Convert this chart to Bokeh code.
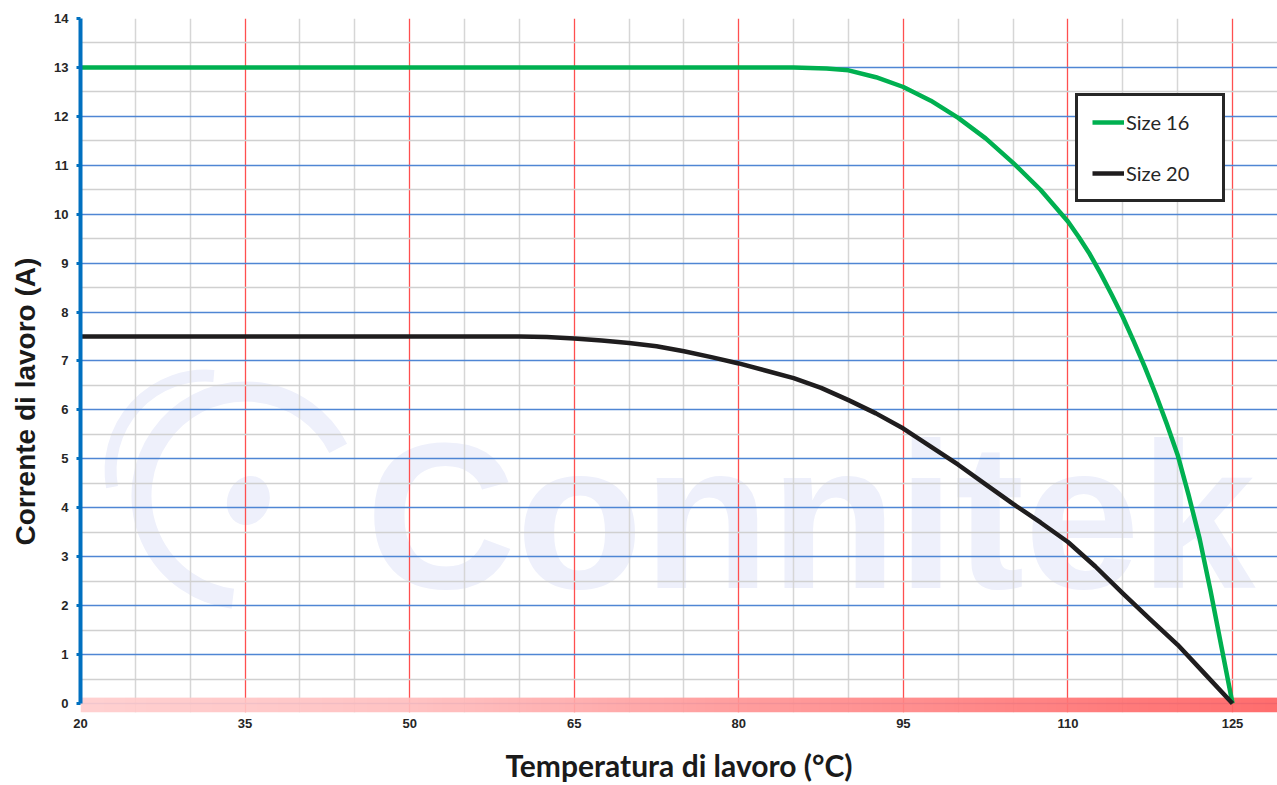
import numpy as np
from bokeh.plotting import figure
from bokeh.models import Range1d, FixedTicker, Legend, LegendItem, Title
from bokeh.embed import file_html
from bokeh.resources import INLINE
from bokeh.core.properties import value

# ---- data ----
temp_size16 = [20, 30, 40, 50, 60, 70, 80, 85, 88, 90, 92.5, 95, 97.5, 100, 102.5,
               105, 107.5, 110, 111, 112, 113, 114, 115, 116, 117, 118, 119, 120,
               121, 122, 123, 124, 125]
curr_size16 = [13, 13, 13, 13, 13, 13, 13, 13.0, 12.98, 12.94, 12.8, 12.6, 12.32, 11.97, 11.55,
               11.05, 10.5, 9.85, 9.53, 9.18, 8.78, 8.35, 7.9, 7.4, 6.88, 6.32, 5.72, 5.08,
               4.26, 3.37, 2.3, 1.15, 0]

temp_size20 = [20, 30, 40, 50, 60, 62.5, 65, 67.5, 70, 72.5, 75, 77.5, 80, 82.5, 85, 87.5,
               90, 92.5, 95, 97.5, 100, 102.5, 105, 107.5, 110, 112.5, 115, 117.5, 120, 122.5, 125]
curr_size20 = [7.5, 7.5, 7.5, 7.5, 7.5, 7.49, 7.46, 7.42, 7.37, 7.3, 7.2, 7.08, 6.95, 6.8, 6.65, 6.45,
               6.2, 5.93, 5.62, 5.25, 4.88, 4.48, 4.08, 3.7, 3.3, 2.8, 2.25, 1.72, 1.2, 0.6, 0]

x_ticks = [20, 35, 50, 65, 80, 95, 110, 125]
x_minor = [25, 30, 40, 45, 55, 60, 70, 75, 85, 90, 100, 105, 115, 120]
y_ticks = list(range(0, 15))
y_minor = [v + 0.5 for v in range(0, 14)]

series_names = ["Size 16", "Size 20"]
series_colors = ["#00B050", "#1F1D1E"]

x_title = "Temperatura di lavoro (°C)"
y_title = "Corrente di lavoro (A)"
watermark = "Connitek"

X0, X1 = 20, 129.1
Y0, Y1 = -0.184, 14

p = figure(width=1277, height=785, output_backend="svg", toolbar_location=None,
           x_range=Range1d(X0, X1), y_range=Range1d(Y0, Y1),
           min_border_left=80, min_border_right=0, min_border_top=18, min_border_bottom=73)
p.outline_line_color = None
p.background_fill_color = "white"
p.border_fill_color = "white"

# ---- watermark (under grid) ----
wm_col = "#EEF0FB"
p.text(x=[46.0], y=[3.84], text=[watermark], text_font=value("Liberation Sans"),
       text_font_style="bold", text_font_size="208px", text_color=wm_col,
       text_baseline="middle", level="image")
p.arc(x=[35.04], y=[4.25], radius=104, radius_units="screen",
      start_angle=np.deg2rad(27), end_angle=np.deg2rad(263), direction="anticlock",
      line_color=wm_col, line_width=20, level="image")
p.arc(x=[31.4], y=[4.76], radius=95, radius_units="screen",
      start_angle=np.deg2rad(85), end_angle=np.deg2rad(190), direction="anticlock",
      line_color=wm_col, line_width=12, level="image")
p.ellipse(x=[35.3], y=[4.15], width=42, height=50, width_units="screen", height_units="screen",
          angle=np.deg2rad(-20), fill_color=wm_col, line_color=None, level="image")

# ---- axes & grids ----
p.xaxis.ticker = FixedTicker(ticks=x_ticks, minor_ticks=x_minor)
p.yaxis.ticker = FixedTicker(ticks=y_ticks, minor_ticks=y_minor)

p.xgrid.grid_line_color = "#FF4F4F"
p.xgrid.grid_line_width = 1.3
p.xgrid.minor_grid_line_color = "#D6D6D6"
p.xgrid.minor_grid_line_width = 1.5

p.ygrid.grid_line_color = "#4F86D4"
p.ygrid.grid_line_width = 1.5
p.ygrid.minor_grid_line_color = "#D0D0D0"
p.ygrid.minor_grid_line_width = 1.5

p.xaxis.axis_line_color = None
p.xaxis.major_tick_line_color = None
p.xaxis.minor_tick_line_color = None
p.xaxis.major_label_standoff = 0
p.xaxis.major_label_text_font = "Liberation Sans"
p.xaxis.major_label_text_font_style = "bold"
p.xaxis.major_label_text_font_size = "13px"
p.xaxis.major_label_text_color = "#262626"
p.xaxis.axis_label = x_title
p.xaxis.axis_label_text_font = "Lato"
p.xaxis.axis_label_text_font_style = "bold"
p.xaxis.axis_label_text_font_size = "30px"
p.xaxis.axis_label_text_color = "#1A1A1A"
p.xaxis.axis_label_standoff = 16

p.yaxis.bounds = (0, 14)
p.yaxis.axis_line_color = "#0070C0"
p.yaxis.axis_line_width = 4
p.yaxis.major_tick_line_color = "#0070C0"
p.yaxis.major_tick_line_width = 3
p.yaxis.major_tick_out = 4
p.yaxis.major_tick_in = 0
p.yaxis.minor_tick_line_color = None
p.yaxis.major_label_standoff = 8
p.yaxis.major_label_text_font = "Liberation Sans"
p.yaxis.major_label_text_font_style = "bold"
p.yaxis.major_label_text_font_size = "13px"
p.yaxis.major_label_text_color = "#262626"

# ---- gradient band along the x axis ----
ncol = 400
xs = np.linspace(X0, X1, ncol)
stops_x = [20, 50, 80, 125, X1]
stops_g = [205, 190, 150, 102, 98]
g = np.interp(xs, stops_x, stops_g).astype(np.uint32)
img = np.zeros((1, ncol), dtype=np.uint32)
view = img.view(dtype=np.uint8).reshape((1, ncol, 4))
view[0, :, 0] = 255
view[0, :, 1] = g
view[0, :, 2] = g
view[0, :, 3] = 235
p.image_rgba(image=[img], x=X0, y=Y0, dw=X1 - X0, dh=0.12 - Y0)

# ---- series ----
r16 = p.line(temp_size16, curr_size16, line_color=series_colors[0], line_width=4.5, line_join="round")
r20 = p.line(temp_size20, curr_size20, line_color=series_colors[1], line_width=4.5, line_join="round")

legend = Legend(items=[LegendItem(label=series_names[0], renderers=[r16]),
                       LegendItem(label=series_names[1], renderers=[r20])],
                location=(995, 510), orientation="vertical")
legend.border_line_color = "#262626"
legend.border_line_width = 3
legend.border_line_alpha = 1
legend.background_fill_color = "white"
legend.background_fill_alpha = 1
legend.padding = 14
legend.spacing = 27
legend.margin = 0
legend.glyph_width = 32
legend.glyph_height = 20
legend.label_height = 20
legend.label_width = 82
legend.label_standoff = 2
legend.label_text_font = "Lato"
legend.label_text_font_size = "20px"
legend.label_text_color = "#262626"
p.add_layout(legend)

# ---- y axis title ----
yt = Title(text=y_title, align="left", offset=167, text_font="Liberation Sans",
           text_font_style="bold", text_font_size="28px", text_color="#1A1A1A",
           vertical_align="top", standoff=18)
p.add_layout(yt, "left")

open("out.html", "w").write(file_html(p, INLINE))
